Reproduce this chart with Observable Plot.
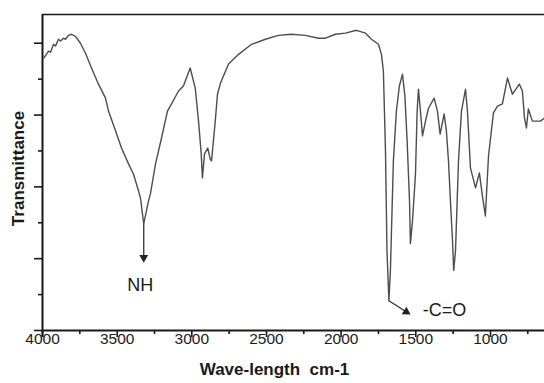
<!DOCTYPE html>
<html><head><meta charset="utf-8">
<script src="https://cdn.jsdelivr.net/npm/d3@7"></script>
<script src="https://cdn.jsdelivr.net/npm/@observablehq/plot@0.6"></script>
<style>
html,body{margin:0;padding:0;background:#fff;}
#chart svg{display:block;}
</style>
</head><body><div id="chart"></div>
<script>
// IR spectrum: wavenumber (cm-1) and transmittance (arbitrary units)
const wavenumber = [3990,3960,3946,3926,3913,3893,3879,3859,3846,3826,3806,3779,3746,3712,3672,3625,3578,3558,3511,3471,3424,3391,3357,3344,3322,3290,3277,3243,3203,3163,3136,3089,3056,3011,2977,2955,2937,2929,2915,2893,2877,2868,2843,2828,2808,2754,2687,2600,2507,2420,2333,2239,2152,2105,2038,1971,1897,1837,1797,1750,1730,1717,1703,1693,1680,1670,1650,1630,1610,1589,1573,1558,1542,1536,1522,1502,1491,1482,1469,1455,1435,1415,1377,1355,1337,1310,1295,1281,1268,1254,1246,1234,1214,1194,1167,1154,1134,1100,1074,1054,1034,1013,980,953,920,886,853,806,786,772,759,746,719,665,638];
const transmittance = [75.9,77.8,77.5,79.7,79.2,81.1,80.6,81.4,81.1,82.2,82.5,81.9,80.0,77.2,73.1,68.6,64.7,61.1,55.6,50.8,46.4,43.6,38.9,36.9,29.7,36.1,38.1,46.4,53.6,61.1,63.1,66.7,68.1,73.1,67.5,58.3,49.2,42.5,49.2,50.8,47.8,47.2,58.3,65.8,68.9,74.2,76.9,79.7,81.1,82.2,82.5,82.2,81.4,81.4,82.5,82.8,83.6,82.8,81.1,79.7,76.9,72.2,50.0,22.2,8.3,16.7,47.2,61.1,68.1,71.4,65.3,52.8,36.1,24.2,30.6,43.6,61.1,67.2,61.1,54.2,58.3,61.9,64.7,61.1,54.7,60.3,55.6,47.2,36.1,25.0,16.7,22.2,47.2,61.1,67.2,61.1,45.3,39.7,43.9,37.5,31.9,48.6,60.6,62.5,63.1,70.3,65.8,68.6,66.7,59.2,56.4,61.7,58.3,58.3,59.2];

const xMajorTicks = [4000,3500,3000,2500,2000,1500,1000];
const xMinorTicks = [3750,3250,2750,2250,1750,1250,750];
const yMajorTicks = [0,20,40,60,80];
const yMinorTicks = [10,30,50,70];

const annotationLabels = ["NH","-C=O"];
const annotationLabelX = [3346,1308];
const annotationLabelY = [12.5,5.6];
const arrowFromX = [3322,1680];
const arrowFromY = [29.7,8.3];
const arrowToX = [3322,1564];
const arrowToY = [20.3,5.2];
const arrowHeadAngle = [180,123];

const xTitle = "Wave-length\u00a0 cm-1";
const yTitle = "Transmittance";

// layout
const W = 544, H = 383, mL = 42, mR = 0, mT = 14, mB = 53;
const xDomain = [4000, 638], yDomain = [0, 88];
const pxPerY = (H - mT - mB) / (yDomain[1] - yDomain[0]);
const pxPerX = (W - mL - mR) / (xDomain[0] - xDomain[1]);

const spectrum = wavenumber.map((w, i) => ({w, t: transmittance[i]}));
const arrows = annotationLabels.map((label, i) => ({
  label, lx: annotationLabelX[i], ly: annotationLabelY[i],
  x1: arrowFromX[i], y1: arrowFromY[i], x2: arrowToX[i], y2: arrowToY[i], a: arrowHeadAngle[i]
}));

const font = "'Liberation Sans', Arial, Helvetica, sans-serif";
const ink = "#1a1a1a";

const chart = Plot.plot({
  width: W, height: H,
  marginLeft: mL, marginRight: mR, marginTop: mT, marginBottom: mB,
  x: {domain: xDomain, axis: null},
  y: {domain: yDomain, axis: null},
  style: {fontFamily: font, background: "#fff", color: ink},
  marks: [
    // curve
    Plot.line(spectrum, {x: "w", y: "t", stroke: "#4d4d4d", strokeWidth: 1.4, strokeLinejoin: "round"}),
    // frame lines
    Plot.ruleX([xDomain[0]], {y1: -7 / pxPerY, y2: yDomain[1], stroke: ink, strokeWidth: 2}),
    Plot.ruleY([yDomain[0]], {x1: xDomain[0], x2: xDomain[1], stroke: ink, strokeWidth: 2}),
    Plot.ruleY([yDomain[1]], {x1: xDomain[0], x2: xDomain[1], stroke: ink, strokeWidth: 1.6}),
    // x ticks
    Plot.ruleX(xMajorTicks, {x: d => d, y1: yDomain[0], y2: yDomain[0] - 7 / pxPerY, stroke: ink, strokeWidth: 1.6}),
    Plot.ruleX(xMinorTicks, {x: d => d, y1: yDomain[0], y2: yDomain[0] - 4 / pxPerY, stroke: ink, strokeWidth: 1.6}),
    // y ticks
    Plot.ruleY(yMajorTicks, {y: d => d, x1: xDomain[0], x2: xDomain[0] + 8 / pxPerX, stroke: ink, strokeWidth: 1.6}),
    Plot.ruleY(yMinorTicks, {y: d => d, x1: xDomain[0], x2: xDomain[0] + 4 / pxPerX, stroke: ink, strokeWidth: 1.6}),
    // x tick labels
    Plot.text(xMajorTicks, {x: d => d, frameAnchor: "bottom", dy: 13, text: d => String(d), fontSize: 15.5, fill: ink}),
    // axis titles
    Plot.text([xTitle], {frameAnchor: "bottom", textAnchor: "middle", dx: -19, dy: 44, text: d => d, fontSize: 17, fontWeight: "bold", fill: ink}),
    Plot.text([yTitle], {frameAnchor: "left", textAnchor: "middle", dx: -23.5, dy: -4, rotate: -90, text: d => d, fontSize: 17, fontWeight: "bold", fill: ink}),
    // annotation arrows
    Plot.link(arrows, {x1: "x1", y1: "y1", x2: "x2", y2: "y2", stroke: "#333", strokeWidth: 1.3}),
    Plot.dot(arrows, {x: "x2", y: "y2", symbol: "triangle", r: 3.3, fill: "#222", stroke: "none", rotate: "a"}),
    Plot.text(arrows, {x: "lx", y: "ly", text: "label", fontSize: 18, fill: ink})
  ]
});
document.getElementById("chart").appendChild(chart);
</script>
</body></html>
